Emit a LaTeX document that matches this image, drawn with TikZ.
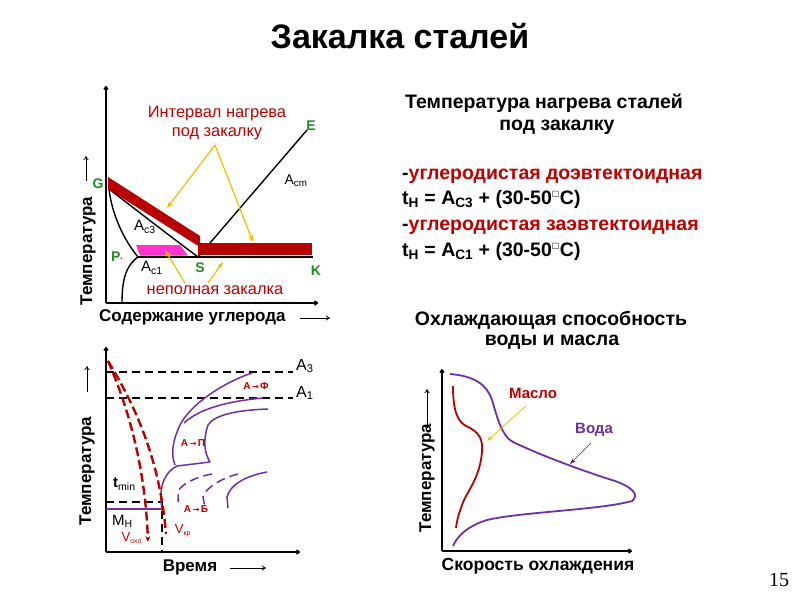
\documentclass[tikz,border=0pt]{standalone}
\usepackage{fontspec}
\setmainfont{Liberation Sans}
\newfontfamily\djv{DejaVu Sans}
\newfontfamily\serifnum{Liberation Serif}
\usetikzlibrary{arrows.meta}
\definecolor{dred}{HTML}{B80000}
\definecolor{tred}{HTML}{C00000}
\definecolor{gr}{HTML}{1E8C1E}
\definecolor{pur}{HTML}{7030A0}
\definecolor{mag}{HTML}{FF33CC}
\definecolor{yel}{HTML}{F0C000}
\newcommand{\fs}[1]{\fontsize{#1}{#1}\selectfont}
\newcommand{\tofu}{\textsuperscript{\djv\fs{8}□}}
\begin{document}
\begin{tikzpicture}[x=1pt,y=-1pt,
  axis/.style={line width=1.8pt,-{To[length=4pt,width=5pt]}},
  smallarr/.style={line width=0.8pt,-{To[length=4pt,width=5pt]}},
  curve/.style={line width=1.4pt},
  yarr/.style={yel,line width=1.2pt,-{Stealth[length=7pt,width=5pt]}},
  lbl/.style={inner sep=0pt},
  grl/.style={inner sep=0pt,text=gr,font=\bfseries\fs{14}},
  hd/.style={inner sep=0pt,font=\bfseries\fs{17}},
  hdr/.style={inner sep=0pt,font=\bfseries\fs{19.5}},
  dashline/.style={line width=1.8pt,dash pattern=on 8pt off 5pt},
  reddash/.style={dred,line width=2.4pt,dash pattern=on 9pt off 4pt},
  pcurve/.style={pur,line width=1.5pt},
]
\useasboundingbox (0,0) rectangle (800,600);
\fill[white] (0,0) rectangle (800,600);

% title
\node[lbl,font=\bfseries\fs{34}] (title) at (400,36) {Закалка сталей};
\node[lbl,font=\serifnum\fs{20}] (pnum) at (779,580) {15};

% ===== top-left diagram =====
\coordinate (o1) at (106,303);
\coordinate (y1) at (106,86);
\coordinate (x1) at (318,303);
\draw[axis] (o1) -- (y1);
\draw[axis] (o1) -- (x1);
\node[hd,rotate=90] (tl-ylab) at (88,251) {Температура};
\coordinate (tl-ya) at (86,181); \coordinate (tl-yb) at (86,156);
\draw[smallarr] (tl-ya) -- (tl-yb);
\node[hd,anchor=west] (tl-xlab) at (99,317) {Содержание углерода};
\coordinate (tl-xa) at (300,318); \coordinate (tl-xb) at (330,318);
\draw[smallarr] (tl-xa) -- (tl-xb);

\coordinate (G) at (109,189);
\coordinate (S) at (198,257);
\coordinate (P) at (138,257);
\coordinate (K) at (313,257);
\coordinate (E) at (307,130);
\coordinate (B) at (122,303);
\draw[curve] (G) .. controls (140,213) and (170,236) .. (S);
\draw[curve] (G) .. controls (112,215) and (124,240) .. (P);
\draw[curve] (P) -- (K);
\draw[curve] (P) .. controls (125,266) and (122,282) .. (B);
\draw[curve] (S) -- (E);
\fill[mag] (136,245) -- (180,245) -- (188,255.5) -- (140,255.5) -- cycle;
\fill[dred] (108,177) -- (200,236) -- (200,247) -- (108,189) -- cycle;
\fill[dred] (198,243) rectangle (312,255);

\node[grl] (lG) at (98,184) {G};
\node[grl] (lE) at (311,126) {E};
\node[grl] (lP) at (117,257) {P\textcolor{black}{\fs{8}·}};
\node[grl] (lS) at (200,268) {S};
\node[grl] (lK) at (316,271) {K};
\node[lbl,font=\fs{14}] (lAcm) at (296,181) {A\textsubscript{cm}};
\node[lbl,font=\fs{15}] (lAc3) at (145,227) {A\textsubscript{c3}};
\node[lbl,font=\fs{15}] (lAc1) at (152,268) {A\textsubscript{c1}};

\node[lbl,text=tred,font=\fs{16.4},align=center] (interval) at (217,123) {Интервал нагрева\\[2pt]под закалку};
\node[lbl,text=tred,font=\fs{16.4}] (nepoln) at (215,290) {неполная закалка};
\coordinate (ia) at (215,145);
\coordinate (ib) at (167,208);
\coordinate (ic) at (253,242);
\draw[yarr] (ia) -- (ib);
\draw[yarr] (ia) -- (ic);
\coordinate (na) at (185,283); \coordinate (nb) at (165,250);
\coordinate (nc) at (208,283); \coordinate (nd) at (223,262);
\draw[yarr] (na) -- (nb);
\draw[yarr] (nc) -- (nd);

% ===== bottom-left diagram =====
\coordinate (o2) at (106,552);
\coordinate (y2) at (106,347);
\coordinate (x2) at (300,552);
\draw[axis] (o2) -- (y2);
\draw[axis] (o2) -- (x2);
\node[hd,rotate=90] (bl-ylab) at (87,471) {Температура};
\coordinate (bl-ya) at (87,392); \coordinate (bl-yb) at (87,366);
\draw[smallarr] (bl-ya) -- (bl-yb);
\node[hd] (bl-xlab) at (190,567) {Время};
\coordinate (bl-xa) at (230,568); \coordinate (bl-xb) at (266,568);
\draw[smallarr] (bl-xa) -- (bl-xb);

\coordinate (a3l) at (106,372); \coordinate (a3r) at (293,372);
\coordinate (a1l) at (106,398); \coordinate (a1r) at (293,398);
\draw[dashline] (a3l) -- (a3r);
\draw[dashline] (a1l) -- (a1r);
\node[lbl,font=\fs{16},anchor=west] (lA3) at (296,366) {A\textsubscript{3}};
\node[lbl,font=\fs{16},anchor=west] (lA1) at (296,393) {A\textsubscript{1}};
\coordinate (tm1) at (106,502); \coordinate (tm2) at (162,502); \coordinate (tm3) at (162,552);
\draw[dashline] (tm1) -- (tm2) -- (tm3);
\coordinate (mh1) at (106,509); \coordinate (mh2) at (162,509);
\draw[pur,line width=1.8pt] (mh1) -- (mh2);
\node[lbl,font=\fs{15},anchor=west] (ltmin) at (113,484) {\textbf{t}\textsubscript{min}};
\node[lbl,font=\fs{15},anchor=west] (lMH) at (112,521) {M\textsubscript{Н}};

% C-curves
\draw[pcurve] (252,373) .. controls (222,383) and (190,405) .. (180,425) .. controls (172,442) and (171,455) .. (175,465);
\draw[pcurve] (263,398) .. controls (230,401) and (200,408) .. (184,423);
\draw[pcurve] (268,409) .. controls (240,410) and (215,414) .. (208,425) .. controls (203,440) and (204,452) .. (210,462);
\draw[pcurve] (210,462) -- (177,466) .. controls (165,472) and (160,485) .. (161,500) -- (162,510);
\draw[pcurve,dash pattern=on 9pt off 5pt] (212,474) .. controls (195,477) and (180,485) .. (178,492) -- (178,502);
\draw[pcurve,dash pattern=on 9pt off 5pt] (238,474) .. controls (222,478) and (205,488) .. (203,497) -- (205,508);
\draw[pcurve] (267,472) .. controls (245,476) and (230,485) .. (227,497) -- (228,508);
\node[lbl,text=tred,font=\bfseries\fs{10}] (lAF) at (256,386) {A\,\djv\fs{8}→\,\rmfamily\bfseries\fs{10}Ф};
\node[lbl,text=tred,font=\bfseries\fs{10}] (lAP) at (193,443) {A\,\djv\fs{8}→\,\rmfamily\bfseries\fs{10}П};
\node[lbl,text=tred,font=\bfseries\fs{10}] (lAB) at (196,509) {A\,\djv\fs{8}→\,\rmfamily\bfseries\fs{10}Б};

% cooling curves
\coordinate (vs) at (108,361);
\coordinate (ve1) at (148,542);
\coordinate (ve2) at (166,534);
\draw[reddash,-{Stealth[length=6pt,width=5pt]}] (vs) .. controls (125,400) and (145,460) .. (ve1);
\draw[reddash] (vs) .. controls (135,405) and (160,460) .. (ve2);
\node[lbl,text=tred,font=\fs{13}] (lVox) at (132,538) {V\textsubscript{\fs{7}охл}};
\node[lbl,text=tred,font=\fs{13}] (lVkr) at (183,531) {V\textsubscript{\fs{7}кр}};

% ===== right top text =====
\node[hdr] (h1) at (544,103) {Температура нагрева сталей};
\node[hdr] (h2) at (557,127) {под закалку};
\node[hdr,anchor=west] (r1) at (402,176) {-\textcolor{tred}{углеродистая доэвтектоидная}};
\node[hdr,anchor=west] (r2) at (402,199) {t\textsubscript{Н} = A\textsubscript{C3} + (30-50\tofu C)};
\node[hdr,anchor=west] (r3) at (402,227) {-\textcolor{tred}{углеродистая заэвтектоидная}};
\node[hdr,anchor=west] (r4) at (402,251) {t\textsubscript{Н} = A\textsubscript{C1} + (30-50\tofu C)};

% ===== right bottom diagram =====
\node[hdr] (h3) at (551,320) {Охлаждающая способность};
\node[hdr] (h4) at (552,342) {воды и масла};
\coordinate (o3) at (442,551);
\coordinate (y3) at (442,369);
\coordinate (x3) at (632,551);
\draw[line width=1.5pt,-{To[length=4pt,width=5pt]}] (o3) -- (y3);
\draw[line width=1.5pt,-{To[length=4pt,width=5pt]}] (o3) -- (x3);
\node[hd,rotate=90] (br-ylab) at (427,478) {Температура};
\coordinate (br-ya) at (427,428); \coordinate (br-yb) at (427,389);
\draw[smallarr] (br-ya) -- (br-yb);
\node[lbl,font=\bfseries\fs{17.5}] (br-xlab) at (538,566) {Скорость охлаждения};

\draw[pur,line width=1.8pt] (450,374) .. controls (475,376) and (487,385) .. (492,400)
  .. controls (498,420) and (502,436) .. (513,442)
  .. controls (540,455) and (580,470) .. (615,481)
  .. controls (632,487) and (640,495) .. (632,501)
  .. controls (600,510) and (520,512) .. (487,520)
  .. controls (468,526) and (458,535) .. (453,546);
\draw[dred,line width=1.8pt] (453,386) .. controls (453,400) and (454,420) .. (466,426)
  .. controls (480,432) and (483,440) .. (482,452)
  .. controls (480,475) and (470,488) .. (464,500)
  .. controls (459,512) and (457,520) .. (456,528);
\node[lbl,text=tred,font=\bfseries\fs{15}] (lmaslo) at (533,393) {Масло};
\node[lbl,text=pur,font=\bfseries\fs{15}] (lvoda) at (594,430) {Вода};
\coordinate (ma) at (526,406); \coordinate (mb) at (487,441);
\coordinate (va) at (591,443); \coordinate (vb) at (570,464);
\draw[yel,line width=0.8pt,-{Stealth[length=6pt,width=4pt]}] (ma) -- (mb);
\draw[pur!70!black,line width=0.6pt,-{Stealth[length=6pt,width=4pt]}] (va) -- (vb);
\end{tikzpicture}
\end{document}
